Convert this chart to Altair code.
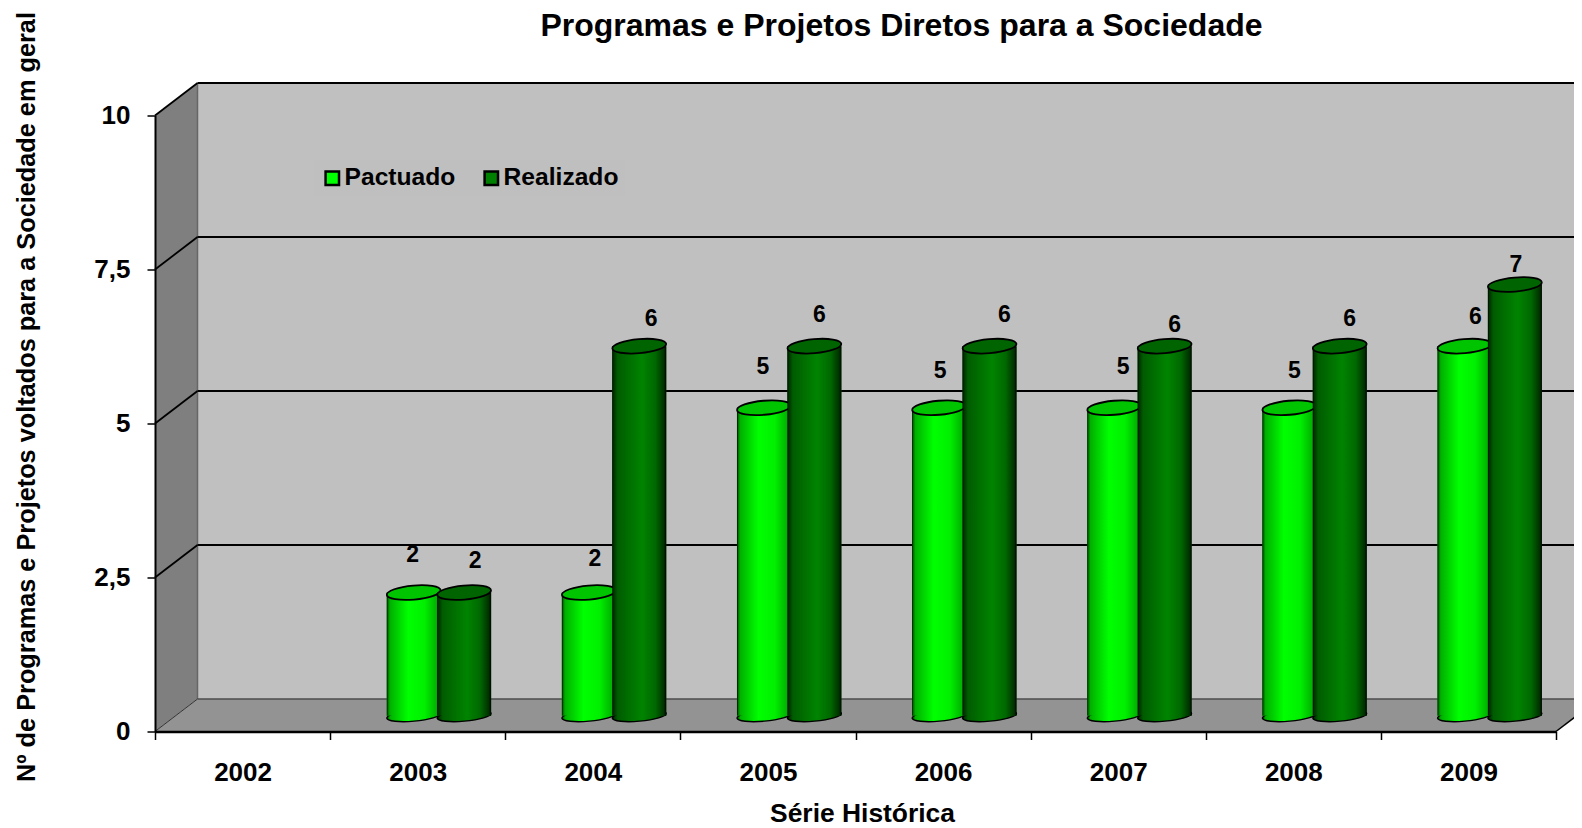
import math
import altair as alt
import pandas as pd

years = ["2002", "2003", "2004", "2005", "2006", "2007", "2008", "2009"]
series = ["Pactuado", "Realizado"]
pactuado = [None, 2, 2, 5, 5, 5, 5, 6]
realizado = [None, 2, 6, 6, 6, 6, 6, 7]
y_ticks = [0, 2.5, 5, 7.5, 10]
grid_values = [2.5, 5, 7.5, 10]
# (dx, dy) nudges of the hand-placed data labels
label_nudges = {
    "Pactuado": [None, (-1, -38), (6, -34), (-1, -41), (1, -37), (9, -41), (5, -37), (11, -29)],
    "Realizado": [None, (11, -32), (12, -27), (5, -31), (15, -31), (10, -21), (10, -27), (1, -20)],
}

FONT = "Liberation Sans"
W, H = 1401, 616
DX, DY = 42.5, 32.5           # depth of the 3D box, px
BX, BY = DX / 2, DY / 2 - 0.5  # bars stand half way back
BAR_W = 54
DEPTH = DY / (H / 10)         # depth expressed in value units


def ellipse_path(ry=0.26, tilt=-5):
    k = 0.5523
    a = math.radians(tilt)
    def p(x, y):
        return f"{x*math.cos(a)-y*math.sin(a):.3f},{x*math.sin(a)+y*math.cos(a):.3f}"
    return (f"M{p(-1,0)} C{p(-1,-k*ry)} {p(-k,-ry)} {p(0,-ry)} "
            f"C{p(k,-ry)} {p(1,-k*ry)} {p(1,0)} "
            f"C{p(1,k*ry)} {p(k,ry)} {p(0,ry)} "
            f"C{p(-k,ry)} {p(-1,k*ry)} {p(-1,0)} Z")


ELLIPSE = ellipse_path()
ELLIPSE_BASE = ellipse_path(ry=0.2)


def grad(stops):
    return alt.Gradient(gradient="linear", x1=0, x2=1, y1=0, y2=0,
                        stops=[alt.GradientStop(offset=o, color=c) for o, c in stops])


GRADS = {
    "Pactuado": grad([(0, "#000000"), (0.025, "#007000"), (0.06, "#00b000"), (0.4, "#00ff00"),
                      (0.7, "#00f000"), (0.96, "#00a800"), (1, "#004000")]),
    "Realizado": grad([(0, "#000000"), (0.025, "#003000"), (0.1, "#005c00"), (0.55, "#008400"),
                       (0.8, "#006800"), (0.96, "#003000"), (1, "#000000")]),
}
TOPS = {"Pactuado": "#00c400", "Realizado": "#006400"}

rows = []
for s, vals in zip(series, [pactuado, realizado]):
    for i, (yr, v) in enumerate(zip(years, vals)):
        if v is not None:
            rows.append({"ano": yr, "serie": s, "valor": v, "base": 0})
df = pd.DataFrame(rows)

x_scale = alt.Scale(type="band", domain=years, paddingInner=0, paddingOuter=0)
y_scale = alt.Scale(domain=[0, 10], nice=False, zero=False)
off_scale = alt.Scale(type="point", domain=series, range=[83.6, 134], padding=0)

X = alt.X(
    "ano:N", scale=x_scale, sort=years,
    axis=alt.Axis(
        title="Série Histórica", titleFont=FONT, titleFontSize=26.4, titleFontWeight="bold",
        titleColor="#000000", titleX=707, titleY=82, titleAnchor="middle", titleBaseline="middle",
        labelFont=FONT, labelFontSize=26, labelFontWeight="bold", labelColor="#000000",
        labelAngle=0, labelPadding=20, tickBand="extent", tickSize=8, tickColor="#000000",
        tickWidth=1.5, domainColor="#000000", domainWidth=2.5, grid=False, zindex=1,
    ),
)
Y_AXIS = alt.Axis(
    title="Nº de Programas e Projetos voltados para a Sociedade em geral",
    titleFont=FONT, titleFontSize=25.3, titleFontWeight="bold", titleColor="#000000",
    titleX=-129, titleY=281, titleAngle=270, titleAnchor="middle", titleBaseline="middle",
    values=y_ticks, labelExpr="replace(toString(datum.value),'.',',')",
    labelFont=FONT, labelFontSize=26, labelFontWeight="bold", labelColor="#000000",
    labelPadding=17, tickSize=8, tickColor="#000000", tickWidth=1.5,
    domainColor="#000000", domainWidth=2, grid=False, zindex=1,
)
Y = alt.Y("valor:Q", scale=y_scale, axis=Y_AXIS)
XOFF = alt.XOffset("serie:N", scale=off_scale)

anchor = alt.Data(values=[{"k": 0}])
FAR = W + DX + 30


def y_of(field):
    return alt.Y(field, type="quantitative", scale=y_scale, axis=Y_AXIS)


back_wall = alt.Chart(anchor).mark_rect(color="#c0c0c0").encode(
    x=alt.value(DX), x2=alt.value(FAR), y=alt.value(-DY), y2=alt.value(H - DY)
)
side_df = pd.DataFrame({"px": [0, DX], "top": [10, 10 + DEPTH], "bot": [0, DEPTH]})
side_wall = alt.Chart(side_df).mark_area(color="#7f7f7f").encode(
    x=alt.X("px:Q", scale=None, axis=None), y=y_of("top"), y2="bot:Q",
)
side_edge = alt.Chart(anchor).mark_rule(color="#666666", strokeWidth=1.5).encode(
    x=alt.value(DX), y=alt.value(-DY), y2=alt.value(H - DY)
)
floor_df = pd.DataFrame({"py": [DEPTH, 0], "l": [DX, 0], "r": [W + DX, W]})
floor = alt.Chart(floor_df).mark_area(color="#939393", orient="horizontal").encode(
    y=y_of("py"), x=alt.X("l:Q", scale=None, axis=None), x2="r:Q",
)
floor_back = alt.Chart(anchor).mark_rule(color="#4d4d4d", strokeWidth=1.5).encode(
    x=alt.value(DX), x2=alt.value(FAR), y=alt.value(H - DY)
)
floor_diag = alt.Chart(pd.DataFrame({"px": [0, DX], "py": [0, DEPTH]})).mark_line(
    color="#333333", strokeWidth=1
).encode(x=alt.X("px:Q", scale=None, axis=None), y=y_of("py"))
floor_diag2 = alt.Chart(pd.DataFrame({"px": [W, W + DX], "py": [0, DEPTH]})).mark_line(
    color="#000000", strokeWidth=1.5
).encode(x=alt.X("px:Q", scale=None, axis=None), y=y_of("py"))

grid_df = pd.DataFrame({"v": grid_values})
grid_h = alt.Chart(grid_df).transform_calculate(b=f"datum.v+{DEPTH}").mark_rule(
    color="#000000", strokeWidth=1.8
).encode(x=alt.value(DX), x2=alt.value(FAR), y=y_of("b"))
grid_d = alt.Chart(grid_df).transform_calculate(b=f"datum.v+{DEPTH}").mark_rule(
    color="#000000", strokeWidth=1.8
).encode(x=alt.value(0), x2=alt.value(DX), y=y_of("v"), y2=alt.Y2("b:Q"))

base = alt.Chart(df)
flat = base.mark_bar(width=BAR_W, xOffset=BX, yOffset=-BY, y2Offset=-BY).encode(
    x=X, xOffset=XOFF, y=Y, y2="base:Q",
    color=alt.Color("serie:N", scale=alt.Scale(domain=series, range=["#00ff00", "#008000"]),
                    legend=alt.Legend(
                        title=None, orient="none", legendX=159, legendY=44, direction="horizontal",
                        labelFont=FONT, labelFontSize=24.6, labelFontWeight="bold", labelColor="#000000",
                        symbolType="square", symbolSize=180, symbolStrokeColor="#000000",
                        symbolStrokeWidth=2.5, columnPadding=23, labelOffset=0,
                        fillColor="#bfbfbf", padding=6,
                    )),
)

layers = [back_wall, side_wall, side_edge, floor, floor_back, floor_diag, floor_diag2, grid_h, grid_d, flat]
for s in series:
    sub = base.transform_filter(alt.datum.serie == s)
    layers.append(sub.mark_point(shape=ELLIPSE_BASE, size=BAR_W ** 2, filled=True, fill=GRADS[s], stroke="#000000",
                                 strokeWidth=1.5, opacity=1, xOffset=BX, yOffset=-BY)
                  .encode(x=X, xOffset=XOFF, y=y_of("base")))
    layers.append(sub.mark_bar(width=BAR_W, fill=GRADS[s], xOffset=BX, yOffset=-BY, y2Offset=-BY)
                  .encode(x=X, xOffset=XOFF, y=Y, y2="base:Q"))
    layers.append(sub.mark_point(shape=ELLIPSE, size=BAR_W ** 2, filled=True, fill=TOPS[s], stroke="#000000",
                                 strokeWidth=1.8, opacity=1, xOffset=BX, yOffset=-BY)
                  .encode(x=X, xOffset=XOFF, y=Y))

for s, vals in zip(series, [pactuado, realizado]):
    for yr, v, nudge in zip(years, vals, label_nudges[s]):
        if v is None:
            continue
        layers.append(
            base.transform_filter(f"datum.serie=='{s}' && datum.ano=='{yr}'")
            .mark_text(font=FONT, fontSize=23, fontWeight="bold", color="#000000",
                       xOffset=BX, yOffset=-BY, dx=nudge[0], dy=nudge[1], baseline="middle")
            .encode(x=X, xOffset=XOFF, y=Y, text="valor:Q")
        )

chart = alt.layer(*layers).properties(
    width=W, height=H,
    padding={"left": 147, "top": 107.5, "right": 18, "bottom": 96.5},
    autosize=alt.AutoSizeParams(type="none"),
    title=alt.TitleParams(
        "Programas e Projetos Diretos para a Sociedade",
        font=FONT, fontSize=32, fontWeight="bold", color="#000000",
        anchor="middle", dx=46, dy=46, baseline="middle", offset=0,
    ),
).configure_view(stroke=None).configure(background="#ffffff")

chart.save("out.html", embed_options={"renderer": "svg", "actions": False})
